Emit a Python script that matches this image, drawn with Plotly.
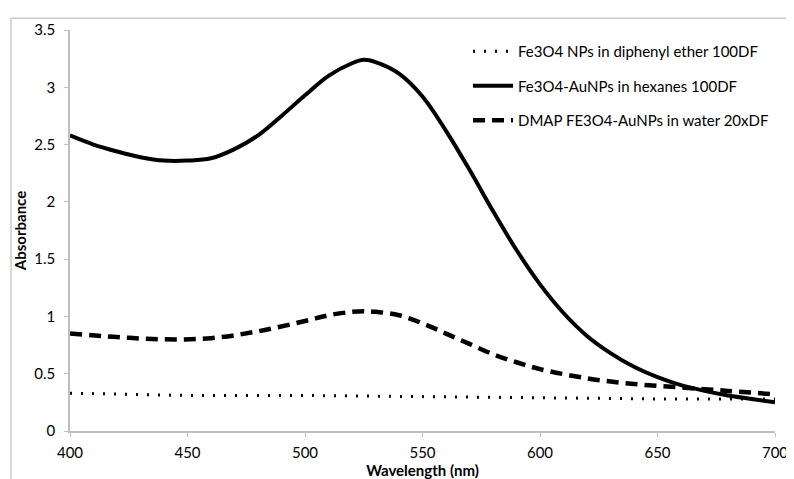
import plotly.graph_objects as go

wl_solid = [400, 410, 420, 430, 440, 450, 460, 470, 480, 490, 500, 510, 520, 525, 530, 540, 550, 560, 570,
            580, 590, 600, 610, 620, 630, 640, 650, 660, 670, 680, 690, 700]
abs_solid = [2.58, 2.50, 2.44, 2.39, 2.36, 2.36, 2.38, 2.46, 2.58, 2.75, 2.93, 3.10, 3.21, 3.24, 3.22, 3.12,
             2.92, 2.62, 2.28, 1.92, 1.58, 1.28, 1.03, 0.83, 0.68, 0.56, 0.47, 0.40, 0.35, 0.31, 0.28, 0.25]

wl_dash = [400, 420, 440, 460, 480, 500, 510, 520, 525, 530, 540, 550, 560, 570, 580, 590, 600, 620, 640,
           660, 680, 700]
abs_dash = [0.85, 0.82, 0.80, 0.81, 0.87, 0.96, 1.01, 1.04, 1.045, 1.04, 1.01, 0.94, 0.85, 0.76, 0.67, 0.60,
            0.54, 0.46, 0.41, 0.38, 0.35, 0.32]

wl_dot = [400, 450, 500, 550, 600, 650, 700]
abs_dot = [0.33, 0.31, 0.31, 0.30, 0.29, 0.28, 0.28]

names = ["Fe3O4 NPs in diphenyl ether 100DF",
         "Fe3O4-AuNPs in hexanes 100DF",
         "DMAP FE3O4-AuNPs in water 20xDF"]

x_ticks = [400, 450, 500, 550, 600, 650, 700]
y_ticks = [0, 0.5, 1, 1.5, 2, 2.5, 3, 3.5]
y_ticklabels = ["0", "0.5", "1", "1.5", "2", "2.5", "3", "3.5"]

W, H = 794, 479
ML, MR, MT, MB = 62, 27, 15, 55
PW, PH = W - ML - MR, H - MT - MB

FONT = "Lato, 'Open Sans', sans-serif"

fig = go.Figure()
fig.add_trace(go.Scatter(x=wl_dot, y=abs_dot, mode="lines", name=names[0], legendgroup="a",
                         line=dict(color="black", width=3, dash="2px,9px")))
fig.add_trace(go.Scatter(x=wl_solid, y=abs_solid, mode="lines", name=names[1], legendgroup="b",
                         line=dict(color="black", width=4, shape="spline")))
fig.add_trace(go.Scatter(x=wl_dash, y=abs_dash, mode="lines", name=names[2], legendgroup="c",
                         line=dict(color="black", width=4.5, dash="12px,7px", shape="spline")))

def px_x(p):
    return (p - ML) / PW

def px_y(p):
    return (H - MB - p) / PH

fig.add_shape(type="rect", xref="paper", yref="paper",
              x0=px_x(3), x1=px_x(790), y0=px_y(476), y1=px_y(3),
              line=dict(color="#cccccc", width=1.5), fillcolor="rgba(0,0,0,0)", layer="below")

fig.update_layout(
    width=W, height=H,
    margin=dict(l=ML, r=MR, t=MT, b=MB),
    paper_bgcolor="white", plot_bgcolor="white",
    font=dict(family=FONT, size=15, color="black"),
    showlegend=True,
    legend=dict(x=px_x(460), y=px_y(20), xanchor="left", yanchor="top",
                bgcolor="rgba(0,0,0,0)", font=dict(size=15), tracegroupgap=12,
                itemwidth=40),
    xaxis=dict(range=[400, 700], tickvals=x_ticks, ticktext=[str(v) for v in x_ticks],
               showgrid=False, zeroline=False, showline=True, linecolor="#bfbfbf", linewidth=1.5,
               ticks="outside", ticklen=4, tickcolor="#bfbfbf", ticklabelstandoff=3,
               title=dict(text="<b>Wavelength (nm)</b>", font=dict(size=15), standoff=4)),
    yaxis=dict(range=[0, 3.5], tickvals=y_ticks, ticktext=y_ticklabels,
               showgrid=False, zeroline=False, showline=True, linecolor="#bfbfbf", linewidth=1.5,
               ticks="outside", ticklen=4, tickcolor="#bfbfbf", ticklabelstandoff=6,
               title=dict(text="<b>Absorbance</b>", font=dict(size=15), standoff=4)),
)

fig.write_html("out.html")
